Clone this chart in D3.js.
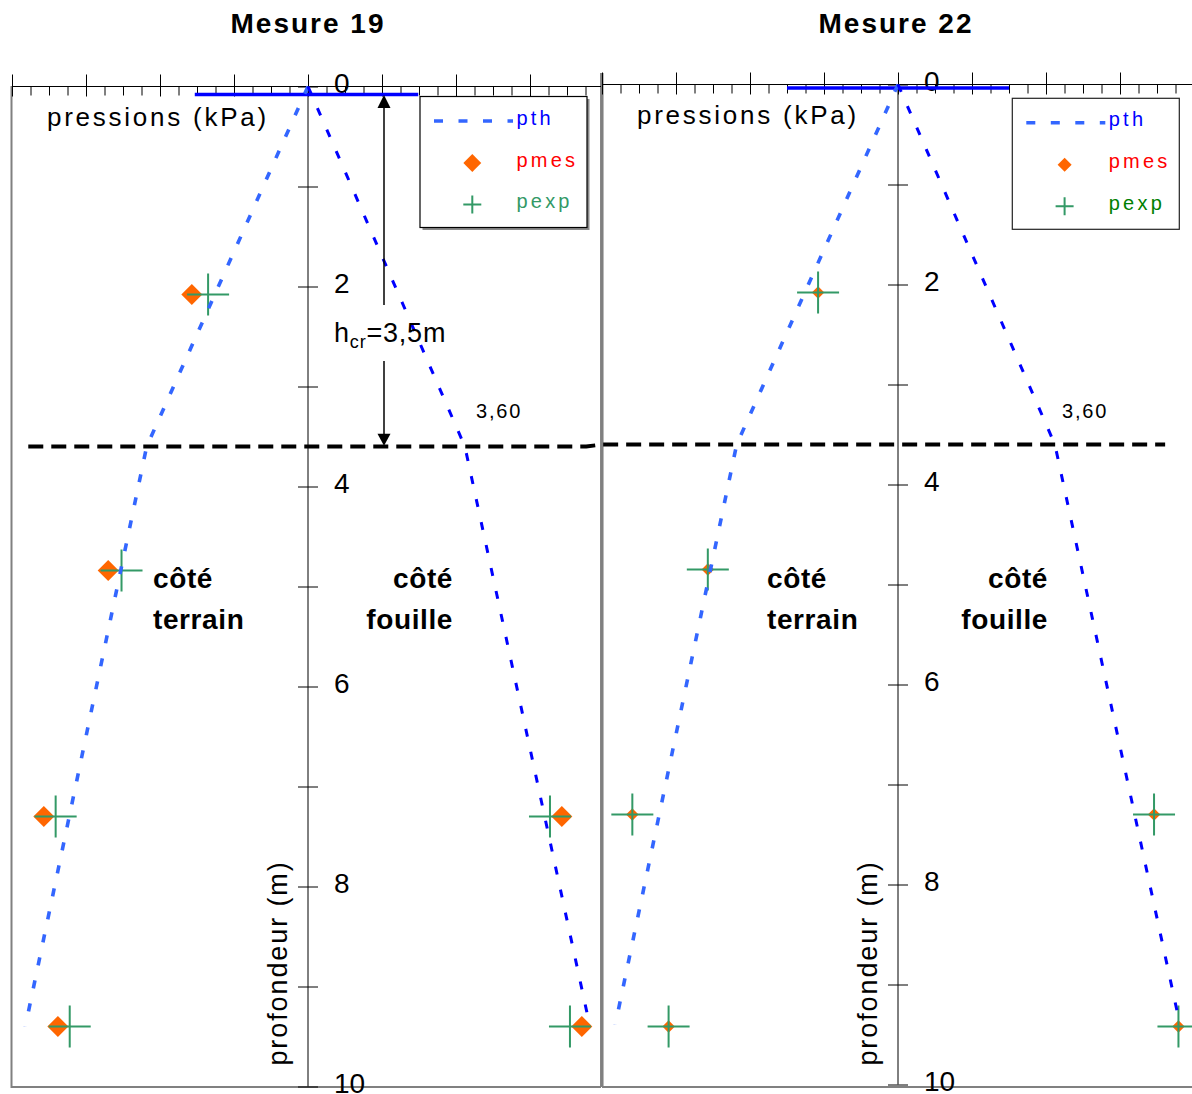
<!DOCTYPE html>
<html><head><meta charset="utf-8">
<script src="https://cdn.jsdelivr.net/npm/d3@7"></script>
<style>body{margin:0;background:#fff}svg{display:block}</style>
</head><body><svg id="c" width="1192" height="1094"></svg>
<script>
// ---------- DATA ----------
const titles = ["Mesure 19", "Mesure 22"];
const depthTicks = [0,1,2,3,4,5,6,7,8,9,10];
const depthLabels = ["0","","2","","4","","6","","8","","10"];
const majorTicks = [-40,-30,-20,-10,0,10,20,30,40];
const minorTicks = [-37.5,-35,-32.5,-27.5,-25,-22.5,-17.5,-15,-12.5,-7.5,-5,-2.5,2.5,5,7.5,12.5,15,17.5,22.5,25,27.5,32.5,35,37.5];
// theoretical pressure (kPa) vs depth (m)
const pthDepth   = [0, 3.6, 9.4];
const pthTerrain = [0, -21.8, -38.2];
const pthFouille = [0, 21.2, 38.1];
// critical depth
const crDepth = 3.6;
const crLabel = "3,60";
const hcrDepth = 3.5;
// Mesure 19
const m19TerrainDepth = [2.08, 4.84, 7.3, 9.4];
const m19PmesTerrain  = [-15.7, -27.0, -35.7, -33.8];
const m19PexpTerrain  = [-13.5, -25.2, -34.1, -32.2];
const m19FouilleDepth = [7.3, 9.4];
const m19PmesFouille  = [34.3, 37.0];
const m19PexpFouille  = [32.7, 35.4];
const m19TopLine      = [-15.3, 14.9];
const m19TopLineDepth = 0.08;
// Mesure 22
const m22TerrainDepth = [2.08, 4.85, 7.3, 9.42];
const m22PmesTerrain  = [-10.8, -25.7, -35.9, -31.0];
const m22PexpTerrain  = [-10.8, -25.7, -35.9, -31.0];
const m22FouilleDepth = [7.3, 9.42];
const m22PmesFouille  = [34.6, 37.9];
const m22PexpFouille  = [34.6, 37.9];
const m22TopLine      = [-15.0, 15.0];
const m22TopLineDepth = 0.035;

// ---------- DRAW ----------
const FONT = '"Liberation Sans", Arial, Helvetica, sans-serif';
const svg = d3.select("#c").style("font-family", FONT);
const zip = (a,b) => a.map((v,i)=>({p:b[i], z:v}));

const charts = [
  {title: titles[0], xr:[12,604], yr:[86.5,1086.5], axisEnd:601,
   pmesT: zip(m19TerrainDepth, m19PmesTerrain), pexpT: zip(m19TerrainDepth, m19PexpTerrain),
   pmesF: zip(m19FouilleDepth, m19PmesFouille), pexpF: zip(m19FouilleDepth, m19PexpFouille),
   top: m19TopLine, topDepth: m19TopLineDepth, diamond: 220, legendDiamond: 160,
   o: {title:0, terrainX:-155, fouilleX:145, profX:-21, crX:168, legX:112, legY:10, pexpColor:"#339966", arrow:true, shadow:true}},
  {title: titles[1], xr:[602,1194], yr:[84.5,1084.5], axisEnd:1192,
   pmesT: zip(m22TerrainDepth, m22PmesTerrain), pexpT: zip(m22TerrainDepth, m22PexpTerrain),
   pmesF: zip(m22FouilleDepth, m22PmesFouille), pexpF: zip(m22FouilleDepth, m22PexpFouille),
   top: m22TopLine, topDepth: m22TopLineDepth, diamond: 78, legendDiamond: 98,
   o: {title:-2, terrainX:-131, fouilleX:150, profX:-21, crX:164, legX:114.3, legY:13.8, pexpColor:"#008000", arrow:false, shadow:false}}
];

// frames
const frame = svg.append("g").attr("fill","none").attr("stroke","#808080");
frame.append("path").attr("d","M11.5,86 V1087 H601").attr("stroke-width",2);
frame.append("path").attr("d","M602,1087 H1192").attr("stroke-width",2);
frame.append("line").attr("x1",601.8).attr("x2",601.8).attr("y1",73).attr("y2",1087).attr("stroke-width",3.5);

const scales = [];

charts.forEach((c, ci) => {
  const x = d3.scaleLinear().domain([-40,40]).range(c.xr);
  const y = d3.scaleLinear().domain([0,10]).range(c.yr);
  scales.push({x,y});
  const x0 = x(0), y0 = y(0);
  const g = svg.append("g");
  const o = c.o;

  // title
  g.append("text").attr("x", x0 + o.title).attr("y", 33).attr("text-anchor","middle")
    .attr("font-size",28).attr("font-weight","bold").attr("letter-spacing",2).text(c.title);

  // top axis
  const ax = g.append("g").attr("transform",`translate(0,${y0})`);
  const maj = majorTicks.filter(v => x(v) <= c.axisEnd + 0.5);
  const mino = minorTicks.filter(v => x(v) <= c.axisEnd);
  ax.append("g").call(d3.axisTop(x).tickValues(maj).tickSize(12).tickFormat("")).call(s=>s.select(".domain").remove());
  ax.append("g").call(d3.axisBottom(x).tickValues(maj).tickSize(10).tickFormat("")).call(s=>s.select(".domain").remove());
  ax.append("g").call(d3.axisBottom(x).tickValues(mino).tickSize(9).tickFormat("")).call(s=>s.select(".domain").remove());
  ax.selectAll("line").attr("stroke","#000");
  ax.append("line").attr("x1", c.xr[0]).attr("x2", c.axisEnd).attr("y1",0).attr("y2",0).attr("stroke","#000").attr("stroke-width",1.2);

  // depth axis
  const ay = g.append("g").attr("transform",`translate(${x0},0)`);
  ay.append("g").call(d3.axisLeft(y).tickValues(depthTicks).tickSize(10).tickFormat("")).call(s=>s.select(".domain").remove());
  ay.append("g").call(d3.axisRight(y).tickValues(depthTicks).tickSize(10).tickPadding(16).tickFormat((d,i)=>depthLabels[i]))
    .call(s=>s.select(".domain").remove());
  ay.selectAll("line").attr("stroke","#000");
  ay.selectAll("text").attr("font-size",28).attr("font-family",FONT).attr("fill","#000").attr("dy","0.2em");
  ay.append("line").attr("x1",0).attr("x2",0).attr("y1",y(0)).attr("y2",y(10)).attr("stroke","#000");

  // top blue line
  g.append("line").attr("x1",x(c.top[0])).attr("x2",x(c.top[1]))
    .attr("y1",y(c.topDepth)).attr("y2",y(c.topDepth)).attr("stroke","#0000ff").attr("stroke-width",3.5);

  // texts
  g.append("text").attr("x", x0-261).attr("y", y0+39.5).attr("font-size",26).attr("letter-spacing",2.75).text("pressions (kPa)");
  const bold = (tx, ty, t, anchor) => g.append("text").attr("x",tx).attr("y",ty).attr("font-size",28)
    .attr("font-weight","bold").attr("letter-spacing",0.6).attr("text-anchor",anchor).text(t);
  bold(x0+o.terrainX, 588, "côté", "start");
  bold(x0+o.terrainX, 629, "terrain", "start");
  bold(x0+o.fouilleX, 588, "côté", "end");
  bold(x0+o.fouilleX, 629, "fouille", "end");
  g.append("text").attr("transform",`translate(${x0+o.profX},963) rotate(-90)`).attr("text-anchor","middle")
    .attr("font-size",27).attr("letter-spacing",1.9).text("profondeur (m)");
  g.append("text").attr("x", x0+o.crX).attr("y", 418).attr("font-size",20).attr("letter-spacing",1.8).text(crLabel);

  // points: pmes diamonds
  const diamondPath = d3.symbol(d3.symbolSquare, c.diamond)();
  const pts = c.pmesT.concat(c.pmesF);
  g.append("g").selectAll("path").data(pts).join("path")
    .attr("d", diamondPath).attr("fill","#ff6600")
    .attr("transform", d=>`translate(${x(d.p)},${y(d.z)}) rotate(45)`);
  // pexp plus
  const px = c.pexpT.concat(c.pexpF);
  g.append("g").selectAll("path").data(px).join("path")
    .attr("d","M-21,0H21M0,-21V21").attr("stroke","#339966").attr("stroke-width",2).attr("fill","none")
    .attr("transform", d=>`translate(${x(d.p)},${y(d.z)})`);

  // pth lines
  const line = d3.line().x(d=>x(d.p)).y(d=>y(d.z));
  g.append("path").datum(zip(pthDepth, pthTerrain)).attr("d",line).attr("fill","none")
    .attr("stroke","#3366ff").attr("stroke-width",3.6).attr("stroke-dasharray","8,15.5");
  g.append("path").datum(zip(pthDepth, pthFouille)).attr("d",line).attr("fill","none")
    .attr("stroke","#0000ff").attr("stroke-width",3).attr("stroke-dasharray","8,15.5");

  // legend
  const bx = x0 + o.legX, by = y0 + o.legY, bw = 167, bh = 131;
  const lg = g.append("g");
  if (o.shadow) lg.append("rect").attr("x",bx+2.5).attr("y",by+2.5).attr("width",bw).attr("height",bh).attr("fill","#8a8a8a");
  lg.append("rect").attr("x",bx).attr("y",by).attr("width",bw).attr("height",bh).attr("fill","#fff")
    .attr("stroke", o.shadow ? "#000" : "#222").attr("stroke-width",1.2);
  lg.append("line").attr("x1",bx+14).attr("x2",bx+93).attr("y1",by+24.5).attr("y2",by+24.5)
    .attr("stroke","#3366ff").attr("stroke-width",3.6).attr("stroke-dasharray","9,15.5");
  const ltxt = (ty, t, col) => lg.append("text").attr("x",bx+96.5).attr("y",by+ty).attr("font-size",20)
    .attr("letter-spacing",3.2).attr("fill",col).text(t);
  ltxt(28, "pth", "#0000ff");
  lg.append("path").attr("d", d3.symbol(d3.symbolSquare, c.legendDiamond)()).attr("fill","#ff6600")
    .attr("transform",`translate(${bx+52.3},${by+66.5}) rotate(45)`);
  ltxt(70, "pmes", "#ff0000");
  lg.append("path").attr("d","M-9,0H9M0,-9V9").attr("stroke","#339966").attr("stroke-width",2)
    .attr("transform",`translate(${bx+52.3},${by+108})`);
  ltxt(111.5, "pexp", o.pexpColor);

  // hcr arrow annotation
  if (o.arrow) {
    const axX = x0 + 76;
    const an = g.append("g");
    an.append("line").attr("x1",axX).attr("x2",axX).attr("y1",y(0)+16).attr("y2",305).attr("stroke","#000").attr("stroke-width",1.5);
    an.append("path").attr("d",`M${axX},${y(0)+8.5}l-6.5,13h13z`).attr("fill","#000");
    an.append("line").attr("x1",axX).attr("x2",axX).attr("y1",361).attr("y2",y(crDepth)-10).attr("stroke","#000").attr("stroke-width",1.5);
    an.append("path").attr("d",`M${axX},${y(crDepth)-0.8}l-6.5,-12h13z`).attr("fill","#000");
    const t = an.append("text").attr("x", x0+26).attr("y",341.7).attr("font-size",27).attr("letter-spacing",0.8);
    t.append("tspan").text("h");
    t.append("tspan").attr("font-size",18).attr("dy",6).text("cr");
    t.append("tspan").attr("dy",-6).text("=" + String(hcrDepth).replace(".",",") + "m");
  }
});

// critical depth dashed line spanning both charts
const L = scales[0], R = scales[1];
const crPts = [[L.x(-37.8), L.y(crDepth)], [L.x(37.6), L.y(crDepth)], [R.x(-40), R.y(crDepth)], [R.x(36.1), R.y(crDepth)]];
svg.append("path").attr("d", d3.line()(crPts)).attr("fill","none").attr("stroke","#000")
  .attr("stroke-width",4).attr("stroke-dasharray","15,8");
</script>
</body></html>
